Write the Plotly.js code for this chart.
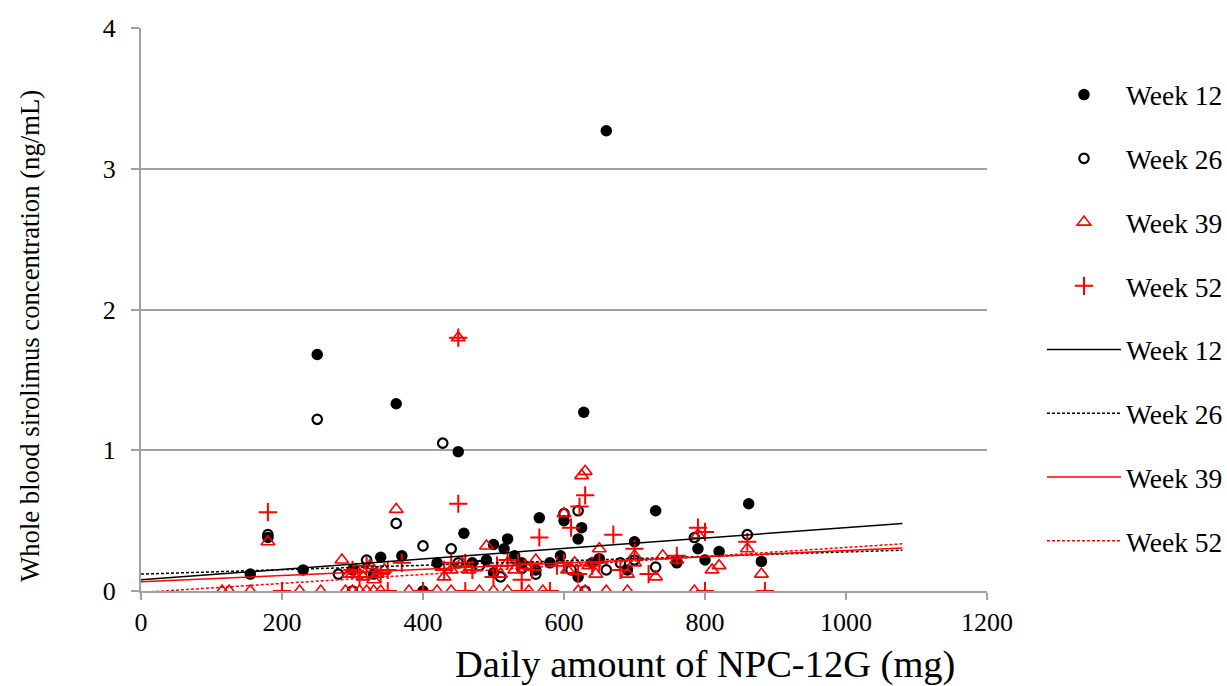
<!DOCTYPE html>
<html>
<head>
<meta charset="utf-8">
<script src="https://cdn.plot.ly/plotly-3.0.1.min.js"></script>
<style>
html,body{margin:0;padding:0;background:#fff;}
#chart{width:1227px;height:686px;}
</style>
</head>
<body>
<div id="chart"></div>
<script>
// Week 12 (filled circles)
const w12x = [250, 362, 450, 660, 628, 458, 565, 730, 862, 880, 180, 230, 155, 340, 370, 400, 490, 500, 520, 530, 560, 580, 600, 620, 625, 640, 690, 700, 760, 790, 800, 820, 300, 330, 420, 500, 540, 620, 470, 515, 595, 650];
const w12y = [1.68, 1.33, 0.99, 3.27, 1.27, 0.41, 0.52, 0.57, 0.62, 0.21, 0.38, 0.15, 0.12, 0.24, 0.25, 0.00, 0.22, 0.33, 0.37, 0.25, 0.15, 0.20, 0.50, 0.37, 0.45, 0.20, 0.15, 0.35, 0.20, 0.30, 0.22, 0.28, 0.15, 0.12, 0.20, 0.13, 0.20, 0.10, 0.20, 0.30, 0.25, 0.23];
// Week 26 (open circles)
const w26x = [250, 428, 362, 180, 400, 440, 600, 620, 630, 660, 730, 785, 860, 510, 300, 320, 480, 560, 610, 680, 700, 280, 450, 540];
const w26y = [1.22, 1.05, 0.48, 0.40, 0.32, 0.30, 0.55, 0.57, 0.00, 0.15, 0.17, 0.38, 0.40, 0.10, 0.00, 0.22, 0.18, 0.12, 0.15, 0.20, 0.22, 0.12, 0.20, 0.16];
// Week 39 (open triangles)
const w39x = [450, 625, 630, 362, 600, 180, 285, 490, 650, 740, 860, 880, 785, 810, 820, 115, 125, 155, 225, 255, 290, 300, 310, 320, 330, 340, 380, 420, 440, 480, 500, 520, 550, 570, 620, 630, 660, 690, 690, 730, 430, 330, 300, 520, 560, 700, 790,
              295, 305, 315, 325, 335, 345, 440, 455, 465, 510, 530, 545, 605, 615, 635, 645, 700, 760];
const w39y = [1.80, 0.82, 0.85, 0.58, 0.55, 0.35, 0.22, 0.32, 0.30, 0.25, 0.30, 0.12, 0.00, 0.15, 0.18, 0.00, 0.00, 0.00, 0.00, 0.00, 0.00, 0.00, 0.00, 0.00, 0.00, 0.00, 0.00, 0.00, 0.00, 0.00, 0.00, 0.00, 0.00, 0.00, 0.00, 0.00, 0.00, 0.00, 0.12, 0.10, 0.10, 0.08, 0.12, 0.20, 0.22, 0.20, 0.40,
              0.12, 0.15, 0.10, 0.18, 0.12, 0.15, 0.15, 0.20, 0.15, 0.12, 0.15, 0.18, 0.15, 0.20, 0.18, 0.12, 0.25, 0.22];
// Week 52 (crosses)
const w52x = [180, 450, 450, 630, 622, 565, 670, 790, 800, 860, 200, 350, 400, 460, 540, 580, 800, 885, 300, 340, 370, 430, 460, 500, 520, 540, 600, 640, 700, 720, 760, 610,
              310, 320, 350, 440, 470, 505, 535, 555, 590, 620, 650, 680];
const w52y = [0.56, 0.62, 1.80, 0.68, 0.60, 0.38, 0.40, 0.45, 0.42, 0.35, 0.00, 0.00, 0.00, 0.00, 0.00, 0.00, 0.00, 0.00, 0.15, 0.12, 0.20, 0.15, 0.20, 0.10, 0.22, 0.08, 0.20, 0.18, 0.30, 0.12, 0.25, 0.45,
              0.10, 0.18, 0.15, 0.20, 0.15, 0.18, 0.20, 0.15, 0.18, 0.12, 0.20, 0.15];
// Regression lines (endpoints)
const fitX = [0, 1080];
const fit12 = [0.08, 0.48];
const fit26 = [0.12, 0.29];
const fit39 = [0.065, 0.305];
const fit52 = [-0.01, 0.335];
const seriesNames = ['Week 12', 'Week 26', 'Week 39', 'Week 52'];
const xTitle = 'Daily amount of NPC-12G (mg)';
const yTitle = 'Whole blood sirolimus concentration (ng/mL)';

const red = '#ff0000';
const traces = [
  {x: w12x, y: w12y, name: seriesNames[0], mode: 'markers', type: 'scatter', legendgroup: 'a',
   marker: {symbol: 'circle', size: 11.5, color: '#000'}},
  {x: w26x, y: w26y, name: seriesNames[1], mode: 'markers', type: 'scatter', legendgroup: 'b',
   marker: {symbol: 'circle-open', size: 9.5, color: '#000', line: {width: 2.2}}},
  {x: w39x, y: w39y, name: seriesNames[2], mode: 'markers', type: 'scatter', legendgroup: 'c',
   marker: {symbol: 'triangle-up-open', size: 12, color: red, line: {width: 1.6}}},
  {x: w52x, y: w52y, name: seriesNames[3], mode: 'markers', type: 'scatter', legendgroup: 'd',
   marker: {symbol: 'cross-thin-open', size: 13, color: red, line: {width: 2, color: red}}},
  {x: fitX, y: fit12, name: seriesNames[0], mode: 'lines', type: 'scatter', legendgroup: 'e',
   line: {color: '#000', width: 1.5}},
  {x: fitX, y: fit26, name: seriesNames[1], mode: 'lines', type: 'scatter', legendgroup: 'f',
   line: {color: '#000', width: 1.5, dash: '3px,2px'}},
  {x: fitX, y: fit39, name: seriesNames[2], mode: 'lines', type: 'scatter', legendgroup: 'g',
   line: {color: red, width: 1.5}},
  {x: fitX, y: fit52, name: seriesNames[3], mode: 'lines', type: 'scatter', legendgroup: 'h',
   line: {color: red, width: 1.5, dash: '3px,2px'}}
];

const font = 'Liberation Serif';
const layout = {
  width: 1227, height: 686,
  margin: {l: 141, r: 240, t: 28, b: 95, pad: 0, autoexpand: false},
  paper_bgcolor: '#fff', plot_bgcolor: '#fff',
  font: {family: font, color: '#000', size: 24},
  showlegend: true,
  legend: {x: 1.065, xanchor: 'left', y: 0.925, yanchor: 'top', traceorder: 'grouped',
           tracegroupgap: 25, font: {size: 27.5, family: font}, itemwidth: 74, bgcolor: 'rgba(0,0,0,0)'},
  xaxis: {range: [0, 1200], tickvals: [0, 200, 400, 600, 800, 1000, 1200],
          showgrid: false, showline: true, linecolor: '#a0a0a0', linewidth: 2,
          ticks: 'outside', ticklen: 7, tickcolor: '#a0a0a0', tickwidth: 2, zeroline: false,
          tickfont: {size: 26, family: font}},
  yaxis: {range: [0, 4], tickvals: [0, 1, 2, 3, 4],
          showgrid: true, gridcolor: '#a0a0a0', gridwidth: 2,
          showline: true, linecolor: '#a0a0a0', linewidth: 2,
          ticks: 'outside', ticklen: 8, tickcolor: '#a0a0a0', tickwidth: 2, zeroline: false,
          ticklabelstandoff: 10,
          tickfont: {size: 26, family: font}},
  annotations: [
    {text: xTitle, xref: 'paper', yref: 'paper', x: (705 - 141) / 846, y: 0, yshift: -73,
     xanchor: 'center', yanchor: 'middle', showarrow: false, font: {size: 38.5, family: font}},
    {text: yTitle, xref: 'paper', yref: 'paper', x: 0, xshift: -111, y: (591 - 336) / 563,
     xanchor: 'center', yanchor: 'middle', textangle: -90, showarrow: false, font: {size: 26.7, family: font}}
  ]
};
Plotly.newPlot('chart', traces, layout, {displayModeBar: false});
</script>
</body>
</html>
